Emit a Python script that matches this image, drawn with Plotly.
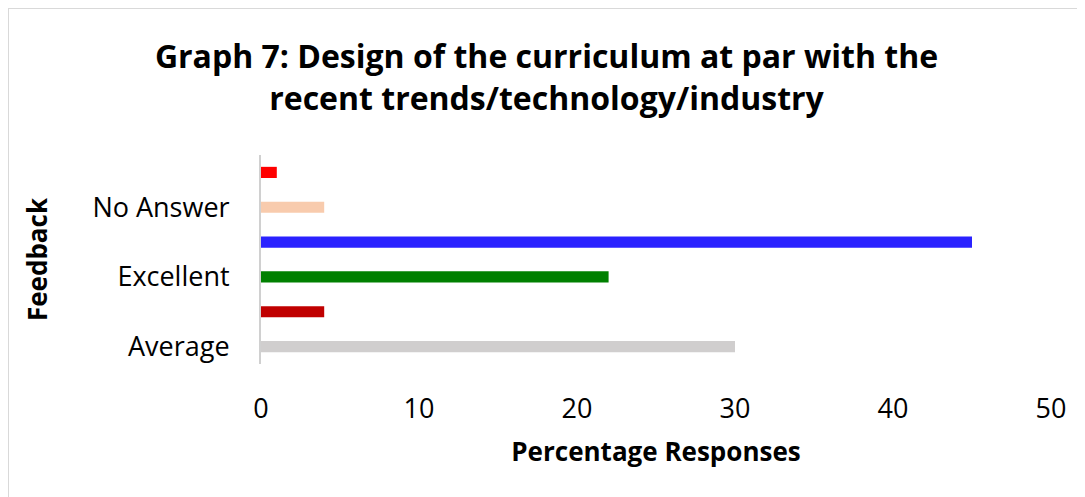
import plotly.graph_objects as go

categories = ["Average", "Below Average", "Excellent", "Good", "No Answer", "Poor"]
values = [30, 4, 22, 45, 4, 1]
colors = ["#D0CECE", "#C00000", "#008000", "#2A22FF", "#F8CBAD", "#FF0000"]
shown_labels = ["Average", "Excellent", "No Answer"]
x_ticks = [0, 10, 20, 30, 40, 50]

# page is offset by the 8px body margin, so figure coords = page coords - 8
W, H = 1077, 489
L, R, T, B = 253, 34, 147, 133
pw = W - L - R
ph = H - T - B

def px(x):
    return (x - L) / pw

def py(y):
    return (H - B - y) / ph

fig = go.Figure(go.Bar(
    y=categories, x=values, orientation="h",
    marker=dict(color=colors, line=dict(width=0)),
    width=0.32,
))

font = "Open Sans, Calibri, sans-serif"
fig.update_layout(
    width=W, height=H,
    margin=dict(l=L, r=R, t=T, b=B, autoexpand=False),
    paper_bgcolor="white", plot_bgcolor="white",
    showlegend=False,
    title=dict(
        text="<b>Graph 7: Design of the curriculum at par with the<br>recent trends/technology/industry</b>",
        x=0.5, xanchor="center", y=1 - 60 / H, yanchor="middle",
        font=dict(family=font, size=32, color="black"),
    ),
    xaxis=dict(
        range=[0, 50], tickvals=x_ticks, showgrid=False, zeroline=False,
        showline=False, ticks="outside", ticklen=21, tickcolor="rgba(0,0,0,0)",
        tickfont=dict(family=font, size=27, color="black"),
        title=dict(text="<b>Percentage Responses</b>", font=dict(family=font, size=26, color="black"), standoff=17),
    ),
    yaxis=dict(
        type="category", categoryorder="array", categoryarray=categories,
        tickvals=shown_labels, ticktext=shown_labels,
        showgrid=False, zeroline=False, showline=True, linecolor="#D0D0D0", linewidth=2,
        ticks="outside", ticklen=24, tickcolor="rgba(0,0,0,0)",
        tickfont=dict(family=font, size=27, color="black"),
        title=dict(text="<b>Feedback</b>", font=dict(family=font, size=26, color="black"), standoff=37),
    ),
    shapes=[
        dict(type="line", xref="paper", yref="paper", x0=px(0), x1=px(W + 5), y0=py(0), y1=py(0),
             line=dict(color="#D9D9D9", width=2)),
        dict(type="line", xref="paper", yref="paper", x0=px(0), x1=px(0), y0=py(0), y1=py(H + 5),
             line=dict(color="#D9D9D9", width=2)),
    ],
)
fig.write_html("out.html")
